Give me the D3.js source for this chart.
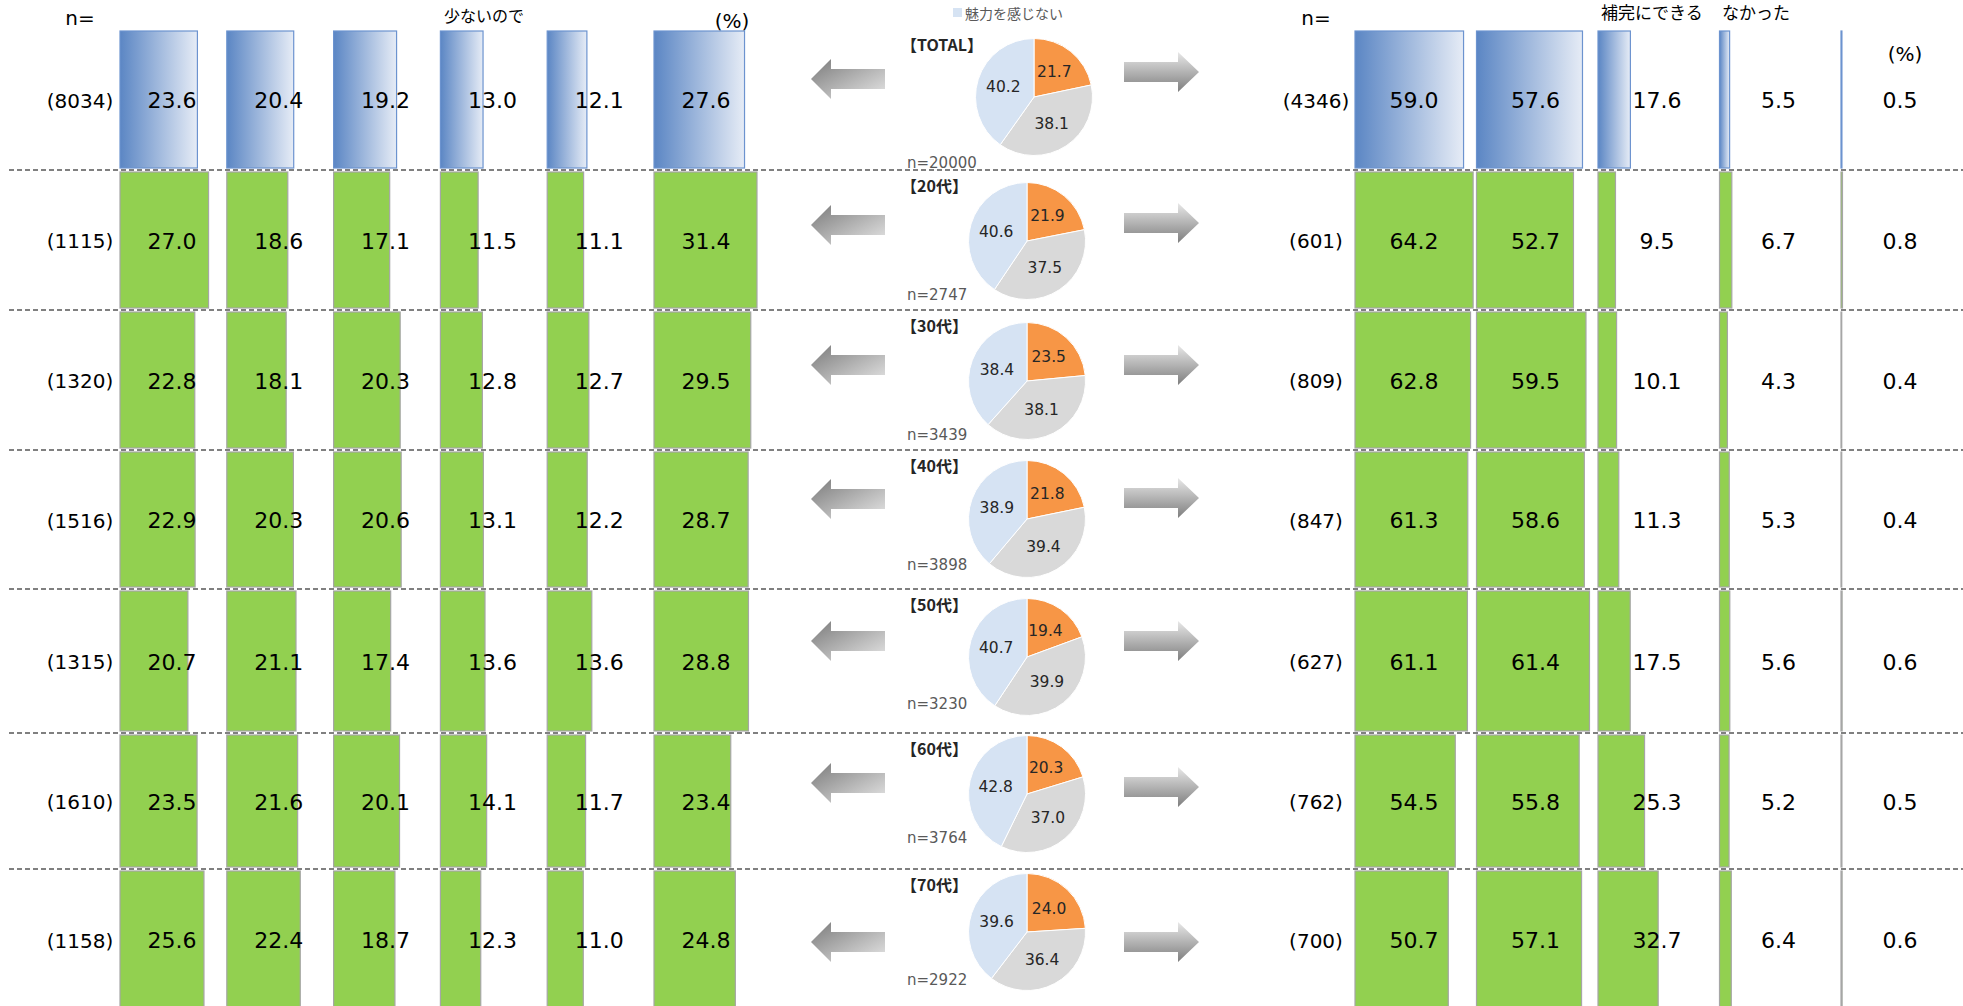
<!DOCTYPE html>
<html>
<head>
<meta charset="utf-8">
<script src="https://cdn.jsdelivr.net/npm/d3@7"></script>
<style>
  html, body { margin: 0; padding: 0; background: #fff; }
  svg { display: block; }
  text { font-family: "DejaVu Sans", "Noto Sans", sans-serif; }
  .jp { font-family: "Noto Sans CJK JP", "Noto Sans", sans-serif; }
</style>
</head>
<body>
<svg id="chart" width="1963" height="1006"></svg>
<script>
// ---- data -------------------------------------------------------------
const groups = ["TOTAL", "20代", "30代", "40代", "50代", "60代", "70代"];

// pie: share who find it attractive / neither / not attractive
const pieAttractive = [21.7, 21.9, 23.5, 21.8, 19.4, 20.3, 24.0];
const pieNeither    = [38.1, 37.5, 38.1, 39.4, 39.9, 37.0, 36.4];
const pieNot        = [40.2, 40.6, 38.4, 38.9, 40.7, 42.8, 39.6];
const pieN          = [20000, 2747, 3439, 3898, 3230, 3764, 2922];
const legendLabel   = "魅力を感じない";

// left panel (reasons, asked of "not attractive" respondents)
const leftN = [8034, 1115, 1320, 1516, 1315, 1610, 1158];
const leftValues = [
  [23.6, 20.4, 19.2, 13.0, 12.1, 27.6],
  [27.0, 18.6, 17.1, 11.5, 11.1, 31.4],
  [22.8, 18.1, 20.3, 12.8, 12.7, 29.5],
  [22.9, 20.3, 20.6, 13.1, 12.2, 28.7],
  [20.7, 21.1, 17.4, 13.6, 13.6, 28.8],
  [23.5, 21.6, 20.1, 14.1, 11.7, 23.4],
  [25.6, 22.4, 18.7, 12.3, 11.0, 24.8]
];
const leftHeader = "少ないので";

// right panel (reasons, asked of "attractive" respondents)
const rightN = [4346, 601, 809, 847, 627, 762, 700];
const rightValues = [
  [59.0, 57.6, 17.6, 5.5, 0.5],
  [64.2, 52.7,  9.5, 6.7, 0.8],
  [62.8, 59.5, 10.1, 4.3, 0.4],
  [61.3, 58.6, 11.3, 5.3, 0.4],
  [61.1, 61.4, 17.5, 5.6, 0.6],
  [54.5, 55.8, 25.3, 5.2, 0.5],
  [50.7, 57.1, 32.7, 6.4, 0.6]
];
const rightHeaders = ["補完にできる", "なかった"];

// ---- layout -----------------------------------------------------------
const W = 1963, H = 1006;
const rowTop = [29, 170, 310, 450, 589, 733, 869];
const rowBottom = i => (i + 1 < rowTop.length ? rowTop[i + 1] : H + 4);
const pieOff = [68, 71, 71, 69, 68, 61, 63];
const arrowLOff = [50, 55, 55, 49, 52, 50, 73];
const arrowROff = [43, 53, 55, 48, 52, 54, 73];
const nOff = [134, 125, 125, 115, 115, 105, 111];

const svg = d3.select("#chart");
const defs = svg.append("defs");

const blueGrad = defs.append("linearGradient").attr("id", "blueGrad")
  .attr("x1", "0%").attr("x2", "100%").attr("y1", "0%").attr("y2", "0%");
blueGrad.append("stop").attr("offset", "0%").attr("stop-color", "#5B86C4");
blueGrad.append("stop").attr("offset", "100%").attr("stop-color", "#E6ECF6");

const gradR = defs.append("linearGradient").attr("id", "arrowR")
  .attr("x1", "0%").attr("x2", "0%").attr("y1", "0%").attr("y2", "100%");
gradR.append("stop").attr("offset", "0%").attr("stop-color", "#E8E8E8");
gradR.append("stop").attr("offset", "100%").attr("stop-color", "#7E7E7E");

const gradL = defs.append("linearGradient").attr("id", "arrowL")
  .attr("x1", "0%").attr("x2", "100%").attr("y1", "0%").attr("y2", "100%");
gradL.append("stop").attr("offset", "0%").attr("stop-color", "#7A7A7A");
gradL.append("stop").attr("offset", "100%").attr("stop-color", "#E6E6E6");

// scales
const leftCol = d3.scaleBand().domain(d3.range(6)).range([120, 120 + 6 * 106.8]);
const rightCol = d3.scaleBand().domain(d3.range(5)).range([1355, 1355 + 5 * 121.5]);
const leftX = d3.scaleLinear().domain([0, 100]).range([0, 328]);
const rightX = d3.scaleLinear().domain([0, 100]).range([0, 184]);

// dashed separators
svg.append("g").selectAll("line")
  .data(rowTop.slice(1))
  .join("line")
  .attr("x1", 9).attr("x2", W)
  .attr("y1", d => d).attr("y2", d => d)
  .attr("stroke", "#808080").attr("stroke-width", 2)
  .attr("stroke-dasharray", "5,3");

// headers
svg.append("text").attr("x", 80).attr("y", 18).attr("text-anchor", "middle")
  .attr("dominant-baseline", "central").attr("font-size", 20).text("n=");
svg.append("text").attr("class", "jp").attr("x", 444).attr("y", 15)
  .attr("dominant-baseline", "central").attr("font-size", 16).text(leftHeader);
svg.append("text").attr("x", 732).attr("y", 21).attr("text-anchor", "middle")
  .attr("dominant-baseline", "central").attr("font-size", 20).text("(%)");

svg.append("text").attr("x", 1316).attr("y", 18).attr("text-anchor", "middle")
  .attr("dominant-baseline", "central").attr("font-size", 20).text("n=");
svg.append("text").attr("class", "jp").attr("x", 1601).attr("y", 11)
  .attr("dominant-baseline", "central").attr("font-size", 17).text(rightHeaders[0]);
svg.append("text").attr("class", "jp").attr("x", 1722).attr("y", 11)
  .attr("dominant-baseline", "central").attr("font-size", 17).text(rightHeaders[1]);
svg.append("text").attr("x", 1905).attr("y", 54).attr("text-anchor", "middle")
  .attr("dominant-baseline", "central").attr("font-size", 20).text("(%)");

// pie legend
svg.append("rect").attr("x", 953).attr("y", 8).attr("width", 9).attr("height", 9)
  .attr("fill", "#D6E3F3");
svg.append("text").attr("class", "jp").attr("x", 965).attr("y", 12.5)
  .attr("dominant-baseline", "central").attr("font-size", 14).attr("fill", "#595959")
  .text(legendLabel);

// ---- rows ---------------------------------------------------------------
const pie = d3.pie().sort(null).value(d => d.v);
const R = 58.5;
const arc = d3.arc().innerRadius(0).outerRadius(R);
const labelArc = d3.arc().innerRadius(R * 0.55).outerRadius(R * 0.55);

groups.forEach((grp, i) => {
  const top = rowTop[i] + 2;
  const bot = rowBottom(i) - 2;
  const midY = (top + bot) / 2 + 1;
  const isTotal = i === 0;
  const fill = isTotal ? "url(#blueGrad)" : "#92D050";
  const stroke = isTotal ? "#6C93CF" : "#A6A6A6";
  const g = svg.append("g");

  // left bars
  g.selectAll("rect.l").data(leftValues[i]).join("rect").attr("class", "l")
    .attr("x", (d, j) => leftCol(j)).attr("y", top)
    .attr("width", d => leftX(d)).attr("height", bot - top)
    .attr("fill", fill).attr("stroke", stroke).attr("stroke-width", 1.2);
  g.selectAll("text.l").data(leftValues[i]).join("text").attr("class", "l")
    .attr("x", (d, j) => leftCol(j) + 52).attr("y", midY)
    .attr("text-anchor", "middle").attr("dominant-baseline", "central")
    .attr("font-size", 22).text(d => d.toFixed(1));
  g.append("text").attr("x", 80).attr("y", midY).attr("text-anchor", "middle")
    .attr("dominant-baseline", "central").attr("font-size", 20)
    .text(`(${leftN[i]})`);

  // right bars
  g.selectAll("rect.r").data(rightValues[i]).join("rect").attr("class", "r")
    .attr("x", (d, j) => rightCol(j)).attr("y", top)
    .attr("width", d => rightX(d)).attr("height", bot - top)
    .attr("fill", fill).attr("stroke", stroke).attr("stroke-width", 1.2);
  g.selectAll("text.r").data(rightValues[i]).join("text").attr("class", "r")
    .attr("x", (d, j) => rightCol(j) + 59).attr("y", midY)
    .attr("text-anchor", "middle").attr("dominant-baseline", "central")
    .attr("font-size", 22).text(d => d.toFixed(1));
  g.append("text").attr("x", 1316).attr("y", midY).attr("text-anchor", "middle")
    .attr("dominant-baseline", "central").attr("font-size", 20)
    .text(`(${rightN[i]})`);

  // pie
  const cx = isTotal ? 1034 : 1027;
  const cy = rowTop[i] + pieOff[i];
  const slices = pie([
    { v: pieAttractive[i], c: "#F79646" },
    { v: pieNeither[i], c: "#D9D9D9" },
    { v: pieNot[i], c: "#D6E3F3" }
  ]);
  const pg = g.append("g").attr("transform", `translate(${cx},${cy})`);
  pg.selectAll("path").data(slices).join("path")
    .attr("d", arc).attr("fill", d => d.data.c)
    .attr("stroke", "#fff").attr("stroke-width", 1);
  pg.selectAll("text").data(slices).join("text")
    .attr("transform", d => `translate(${labelArc.centroid(d)})`)
    .attr("text-anchor", "middle").attr("dominant-baseline", "central")
    .attr("font-size", 15.5).attr("fill", "#262626")
    .text(d => d.data.v.toFixed(1));

  g.append("text").attr("class", "jp").attr("x", 901).attr("y", rowTop[i] + 15)
    .attr("dominant-baseline", "central").attr("font-size", 16)
    .attr("font-weight", "bold").attr("fill", "#262626")
    .text(`【${grp}】`);
  g.append("text").attr("x", 907).attr("y", rowTop[i] + nOff[i])
    .attr("dominant-baseline", "central").attr("font-size", 15)
    .attr("fill", "#595959").text(`n=${pieN[i]}`);

  // arrows
  const ly = rowTop[i] + arrowLOff[i];
  const la = d3.path();
  la.moveTo(811, ly); la.lineTo(831, ly - 20); la.lineTo(831, ly - 10);
  la.lineTo(885, ly - 10); la.lineTo(885, ly + 10); la.lineTo(831, ly + 10);
  la.lineTo(831, ly + 20); la.closePath();
  g.append("path").attr("d", la.toString()).attr("fill", "url(#arrowL)");

  const ry = rowTop[i] + arrowROff[i];
  const ra = d3.path();
  ra.moveTo(1199, ry); ra.lineTo(1178, ry - 20); ra.lineTo(1178, ry - 10);
  ra.lineTo(1124, ry - 10); ra.lineTo(1124, ry + 10); ra.lineTo(1178, ry + 10);
  ra.lineTo(1178, ry + 20); ra.closePath();
  g.append("path").attr("d", ra.toString()).attr("fill", "url(#arrowR)");
});
</script>
</body>
</html>
